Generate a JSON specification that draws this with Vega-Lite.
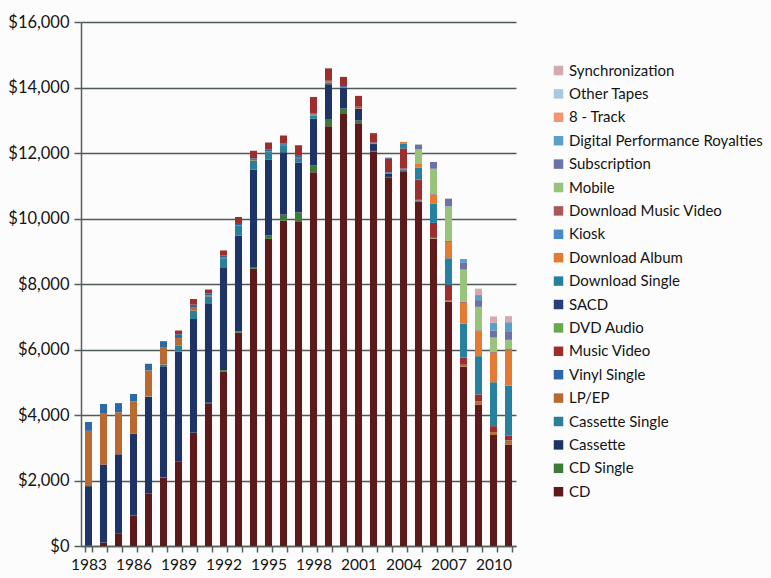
{
  "$schema": "https://vega.github.io/schema/vega-lite/v6.json",
  "autosize": {"type": "none"},
  "width": 435,
  "height": 524,
  "padding": {"left": 81, "top": 22, "right": 255, "bottom": 32},
  "background": "#fcfcfc",
  "data": {
    "values": [
      {"year": 1983, "format": "CD", "sales": 17.2},
      {"year": 1983, "format": "Cassette", "sales": 1810.9},
      {"year": 1983, "format": "LP/EP", "sales": 1689.0},
      {"year": 1983, "format": "Vinyl Single", "sales": 269.3},
      {"year": 1984, "format": "CD", "sales": 103.3},
      {"year": 1984, "format": "Cassette", "sales": 2383.9},
      {"year": 1984, "format": "LP/EP", "sales": 1548.8},
      {"year": 1984, "format": "Vinyl Single", "sales": 298.7},
      {"year": 1985, "format": "CD", "sales": 389.5},
      {"year": 1985, "format": "Cassette", "sales": 2411.5},
      {"year": 1985, "format": "LP/EP", "sales": 1280.5},
      {"year": 1985, "format": "Vinyl Single", "sales": 281.0},
      {"year": 1986, "format": "CD", "sales": 930.1},
      {"year": 1986, "format": "Cassette", "sales": 2499.5},
      {"year": 1986, "format": "LP/EP", "sales": 983.0},
      {"year": 1986, "format": "Vinyl Single", "sales": 228.1},
      {"year": 1987, "format": "CD", "sales": 1593.6},
      {"year": 1987, "format": "Cassette", "sales": 2959.7},
      {"year": 1987, "format": "Cassette Single", "sales": 14.3},
      {"year": 1987, "format": "LP/EP", "sales": 793.1},
      {"year": 1987, "format": "Vinyl Single", "sales": 203.3},
      {"year": 1988, "format": "CD", "sales": 2089.9},
      {"year": 1988, "format": "CD Single", "sales": 9.8},
      {"year": 1988, "format": "Cassette", "sales": 3385.1},
      {"year": 1988, "format": "Cassette Single", "sales": 57.3},
      {"year": 1988, "format": "LP/EP", "sales": 532.3},
      {"year": 1988, "format": "Vinyl Single", "sales": 180.4},
      {"year": 1989, "format": "CD", "sales": 2587.7},
      {"year": 1989, "format": "Cassette", "sales": 3345.8},
      {"year": 1989, "format": "Cassette Single", "sales": 194.6},
      {"year": 1989, "format": "LP/EP", "sales": 220.3},
      {"year": 1989, "format": "Vinyl Single", "sales": 116.4},
      {"year": 1989, "format": "Music Video", "sales": 115.4},
      {"year": 1990, "format": "CD", "sales": 3451.6},
      {"year": 1990, "format": "CD Single", "sales": 6.0},
      {"year": 1990, "format": "Cassette", "sales": 3472.4},
      {"year": 1990, "format": "Cassette Single", "sales": 257.9},
      {"year": 1990, "format": "LP/EP", "sales": 86.5},
      {"year": 1990, "format": "Vinyl Single", "sales": 94.4},
      {"year": 1990, "format": "Music Video", "sales": 172.3},
      {"year": 1991, "format": "CD", "sales": 4337.7},
      {"year": 1991, "format": "CD Single", "sales": 35.1},
      {"year": 1991, "format": "Cassette", "sales": 3019.6},
      {"year": 1991, "format": "Cassette Single", "sales": 230.4},
      {"year": 1991, "format": "LP/EP", "sales": 29.4},
      {"year": 1991, "format": "Vinyl Single", "sales": 63.9},
      {"year": 1991, "format": "Music Video", "sales": 118.1},
      {"year": 1992, "format": "CD", "sales": 5326.5},
      {"year": 1992, "format": "CD Single", "sales": 45.1},
      {"year": 1992, "format": "Cassette", "sales": 3116.3},
      {"year": 1992, "format": "Cassette Single", "sales": 298.8},
      {"year": 1992, "format": "LP/EP", "sales": 13.5},
      {"year": 1992, "format": "Vinyl Single", "sales": 66.4},
      {"year": 1992, "format": "Music Video", "sales": 157.4},
      {"year": 1993, "format": "CD", "sales": 6511.4},
      {"year": 1993, "format": "CD Single", "sales": 45.8},
      {"year": 1993, "format": "Cassette", "sales": 2915.8},
      {"year": 1993, "format": "Cassette Single", "sales": 298.5},
      {"year": 1993, "format": "LP/EP", "sales": 10.6},
      {"year": 1993, "format": "Vinyl Single", "sales": 51.2},
      {"year": 1993, "format": "Music Video", "sales": 213.3},
      {"year": 1994, "format": "CD", "sales": 8464.5},
      {"year": 1994, "format": "CD Single", "sales": 56.1},
      {"year": 1994, "format": "Cassette", "sales": 2976.4},
      {"year": 1994, "format": "Cassette Single", "sales": 274.9},
      {"year": 1994, "format": "LP/EP", "sales": 17.8},
      {"year": 1994, "format": "Vinyl Single", "sales": 47.2},
      {"year": 1994, "format": "Music Video", "sales": 231.1},
      {"year": 1995, "format": "CD", "sales": 9377.4},
      {"year": 1995, "format": "CD Single", "sales": 110.9},
      {"year": 1995, "format": "Cassette", "sales": 2303.6},
      {"year": 1995, "format": "Cassette Single", "sales": 236.3},
      {"year": 1995, "format": "LP/EP", "sales": 25.1},
      {"year": 1995, "format": "Vinyl Single", "sales": 46.7},
      {"year": 1995, "format": "Music Video", "sales": 220.3},
      {"year": 1996, "format": "CD", "sales": 9934.7},
      {"year": 1996, "format": "CD Single", "sales": 184.1},
      {"year": 1996, "format": "Cassette", "sales": 1905.3},
      {"year": 1996, "format": "Cassette Single", "sales": 189.3},
      {"year": 1996, "format": "LP/EP", "sales": 36.8},
      {"year": 1996, "format": "Vinyl Single", "sales": 47.5},
      {"year": 1996, "format": "Music Video", "sales": 236.1},
      {"year": 1997, "format": "CD", "sales": 9915.1},
      {"year": 1997, "format": "CD Single", "sales": 272.7},
      {"year": 1997, "format": "Cassette", "sales": 1522.7},
      {"year": 1997, "format": "Cassette Single", "sales": 133.5},
      {"year": 1997, "format": "LP/EP", "sales": 33.3},
      {"year": 1997, "format": "Vinyl Single", "sales": 35.6},
      {"year": 1997, "format": "Music Video", "sales": 323.9},
      {"year": 1998, "format": "CD", "sales": 11416.0},
      {"year": 1998, "format": "CD Single", "sales": 213.2},
      {"year": 1998, "format": "Cassette", "sales": 1419.9},
      {"year": 1998, "format": "Cassette Single", "sales": 94.4},
      {"year": 1998, "format": "LP/EP", "sales": 34.0},
      {"year": 1998, "format": "Vinyl Single", "sales": 25.7},
      {"year": 1998, "format": "Music Video", "sales": 508.0},
      {"year": 1999, "format": "CD", "sales": 12816.3},
      {"year": 1999, "format": "CD Single", "sales": 222.4},
      {"year": 1999, "format": "Cassette", "sales": 1061.6},
      {"year": 1999, "format": "Cassette Single", "sales": 48.0},
      {"year": 1999, "format": "LP/EP", "sales": 31.8},
      {"year": 1999, "format": "Vinyl Single", "sales": 27.9},
      {"year": 1999, "format": "Music Video", "sales": 376.7},
      {"year": 2000, "format": "CD", "sales": 13214.5},
      {"year": 2000, "format": "CD Single", "sales": 142.7},
      {"year": 2000, "format": "Cassette", "sales": 626.0},
      {"year": 2000, "format": "Cassette Single", "sales": 4.6},
      {"year": 2000, "format": "LP/EP", "sales": 27.7},
      {"year": 2000, "format": "Vinyl Single", "sales": 26.3},
      {"year": 2000, "format": "Music Video", "sales": 281.9},
      {"year": 2001, "format": "CD", "sales": 12909.4},
      {"year": 2001, "format": "CD Single", "sales": 79.4},
      {"year": 2001, "format": "Cassette", "sales": 363.4},
      {"year": 2001, "format": "LP/EP", "sales": 27.4},
      {"year": 2001, "format": "Vinyl Single", "sales": 31.4},
      {"year": 2001, "format": "Music Video", "sales": 329.2},
      {"year": 2001, "format": "DVD Audio", "sales": 6.0},
      {"year": 2002, "format": "CD", "sales": 12044.1},
      {"year": 2002, "format": "CD Single", "sales": 19.6},
      {"year": 2002, "format": "Cassette", "sales": 209.8},
      {"year": 2002, "format": "LP/EP", "sales": 20.5},
      {"year": 2002, "format": "Vinyl Single", "sales": 24.9},
      {"year": 2002, "format": "Music Video", "sales": 288.4},
      {"year": 2002, "format": "DVD Audio", "sales": 6.5},
      {"year": 2003, "format": "CD", "sales": 11232.9},
      {"year": 2003, "format": "CD Single", "sales": 36.0},
      {"year": 2003, "format": "Cassette", "sales": 108.1},
      {"year": 2003, "format": "LP/EP", "sales": 21.7},
      {"year": 2003, "format": "Vinyl Single", "sales": 21.5},
      {"year": 2003, "format": "Music Video", "sales": 399.9},
      {"year": 2003, "format": "DVD Audio", "sales": 8.5},
      {"year": 2003, "format": "SACD", "sales": 26.3},
      {"year": 2004, "format": "CD", "sales": 11446.5},
      {"year": 2004, "format": "CD Single", "sales": 15.0},
      {"year": 2004, "format": "Cassette", "sales": 23.7},
      {"year": 2004, "format": "LP/EP", "sales": 19.3},
      {"year": 2004, "format": "Vinyl Single", "sales": 19.9},
      {"year": 2004, "format": "Music Video", "sales": 607.2},
      {"year": 2004, "format": "DVD Audio", "sales": 6.5},
      {"year": 2004, "format": "SACD", "sales": 16.6},
      {"year": 2004, "format": "Download Single", "sales": 138.0},
      {"year": 2004, "format": "Download Album", "sales": 45.5},
      {"year": 2005, "format": "CD", "sales": 10520.2},
      {"year": 2005, "format": "CD Single", "sales": 10.9},
      {"year": 2005, "format": "Cassette", "sales": 13.1},
      {"year": 2005, "format": "LP/EP", "sales": 14.2},
      {"year": 2005, "format": "Vinyl Single", "sales": 13.2},
      {"year": 2005, "format": "Music Video", "sales": 602.2},
      {"year": 2005, "format": "SACD", "sales": 10.9},
      {"year": 2005, "format": "Download Single", "sales": 363.3},
      {"year": 2005, "format": "Download Album", "sales": 135.7},
      {"year": 2005, "format": "Kiosk", "sales": 1.0},
      {"year": 2005, "format": "Download Music Video", "sales": 1.9},
      {"year": 2005, "format": "Mobile", "sales": 421.6},
      {"year": 2005, "format": "Subscription", "sales": 149.2},
      {"year": 2006, "format": "CD", "sales": 9372.6},
      {"year": 2006, "format": "CD Single", "sales": 7.7},
      {"year": 2006, "format": "Cassette", "sales": 3.7},
      {"year": 2006, "format": "LP/EP", "sales": 15.7},
      {"year": 2006, "format": "Vinyl Single", "sales": 11.5},
      {"year": 2006, "format": "Music Video", "sales": 451.7},
      {"year": 2006, "format": "SACD", "sales": 3.1},
      {"year": 2006, "format": "Download Single", "sales": 580.6},
      {"year": 2006, "format": "Download Album", "sales": 275.9},
      {"year": 2006, "format": "Kiosk", "sales": 1.9},
      {"year": 2006, "format": "Download Music Video", "sales": 19.7},
      {"year": 2006, "format": "Mobile", "sales": 774.5},
      {"year": 2006, "format": "Subscription", "sales": 206.2},
      {"year": 2007, "format": "CD", "sales": 7452.3},
      {"year": 2007, "format": "CD Single", "sales": 12.2},
      {"year": 2007, "format": "LP/EP", "sales": 22.9},
      {"year": 2007, "format": "Vinyl Single", "sales": 4.0},
      {"year": 2007, "format": "Music Video", "sales": 484.9},
      {"year": 2007, "format": "Download Single", "sales": 809.9},
      {"year": 2007, "format": "Download Album", "sales": 497.7},
      {"year": 2007, "format": "Kiosk", "sales": 2.6},
      {"year": 2007, "format": "Download Music Video", "sales": 28.2},
      {"year": 2007, "format": "Mobile", "sales": 1055.8},
      {"year": 2007, "format": "Subscription", "sales": 234.4},
      {"year": 2008, "format": "CD", "sales": 5471.3},
      {"year": 2008, "format": "CD Single", "sales": 3.5},
      {"year": 2008, "format": "LP/EP", "sales": 56.7},
      {"year": 2008, "format": "Vinyl Single", "sales": 2.9},
      {"year": 2008, "format": "Music Video", "sales": 218.9},
      {"year": 2008, "format": "Download Single", "sales": 1032.2},
      {"year": 2008, "format": "Download Album", "sales": 635.3},
      {"year": 2008, "format": "Kiosk", "sales": 2.6},
      {"year": 2008, "format": "Download Music Video", "sales": 39.7},
      {"year": 2008, "format": "Mobile", "sales": 977.1},
      {"year": 2008, "format": "Subscription", "sales": 221.4},
      {"year": 2008, "format": "Digital Performance Royalties", "sales": 100.0},
      {"year": 2009, "format": "CD", "sales": 4320},
      {"year": 2009, "format": "LP/EP", "sales": 100},
      {"year": 2009, "format": "Vinyl Single", "sales": 2.5},
      {"year": 2009, "format": "Music Video", "sales": 205},
      {"year": 2009, "format": "Download Single", "sales": 1170},
      {"year": 2009, "format": "Download Album", "sales": 765},
      {"year": 2009, "format": "Kiosk", "sales": 5},
      {"year": 2009, "format": "Download Music Video", "sales": 20},
      {"year": 2009, "format": "Mobile", "sales": 715},
      {"year": 2009, "format": "Subscription", "sales": 205},
      {"year": 2009, "format": "Digital Performance Royalties", "sales": 155},
      {"year": 2009, "format": "Synchronization", "sales": 195},
      {"year": 2010, "format": "CD", "sales": 3389},
      {"year": 2010, "format": "LP/EP", "sales": 89},
      {"year": 2010, "format": "Vinyl Single", "sales": 2},
      {"year": 2010, "format": "Music Video", "sales": 180},
      {"year": 2010, "format": "Download Single", "sales": 1340},
      {"year": 2010, "format": "Download Album", "sales": 895},
      {"year": 2010, "format": "Kiosk", "sales": 5},
      {"year": 2010, "format": "Download Music Video", "sales": 25},
      {"year": 2010, "format": "Mobile", "sales": 440},
      {"year": 2010, "format": "Subscription", "sales": 215},
      {"year": 2010, "format": "Digital Performance Royalties", "sales": 240},
      {"year": 2010, "format": "Synchronization", "sales": 190},
      {"year": 2011, "format": "CD", "sales": 3101},
      {"year": 2011, "format": "LP/EP", "sales": 120},
      {"year": 2011, "format": "Vinyl Single", "sales": 5},
      {"year": 2011, "format": "Music Video", "sales": 150},
      {"year": 2011, "format": "Download Single", "sales": 1520},
      {"year": 2011, "format": "Download Album", "sales": 1085},
      {"year": 2011, "format": "Kiosk", "sales": 5},
      {"year": 2011, "format": "Download Music Video", "sales": 25},
      {"year": 2011, "format": "Mobile", "sales": 285},
      {"year": 2011, "format": "Subscription", "sales": 238},
      {"year": 2011, "format": "Digital Performance Royalties", "sales": 300},
      {"year": 2011, "format": "Synchronization", "sales": 183}
    ]
  },
  "transform": [
    {"calculate": "indexof(['Synchronization','Other Tapes','8 - Track','Digital Performance Royalties','Subscription','Mobile','Download Music Video','Kiosk','Download Album','Download Single','SACD','DVD Audio','Music Video','Vinyl Single','LP/EP','Cassette Single','Cassette','CD Single','CD'], datum.format)", "as": "stackRank"}
  ],
  "mark": {"type": "bar"},
  "encoding": {
    "x": {
      "field": "year",
      "type": "ordinal",
      "scale": {"paddingInner": 0.53, "paddingOuter": 0.265},
      "axis": {
        "title": null,
        "labelAngle": 0,
        "labelExpr": "(datum.value - 1983) % 3 == 0 ? datum.label : ''",
        "tickBand": "extent",
        "tickSize": 6,
        "labelPadding": 5,
        "labelFontSize": 15.5,
        "labelFont": "Lato",
        "labelColor": "#141414",
        "domainColor": "#55605d",
        "domainWidth": 1.5,
        "tickColor": "#55605d",
        "tickWidth": 1.5,
        "grid": false
      }
    },
    "y": {
      "field": "sales",
      "type": "quantitative",
      "aggregate": "sum",
      "stack": "zero",
      "scale": {"domain": [0, 16000], "nice": false},
      "axis": {
        "title": null,
        "values": [0, 2000, 4000, 6000, 8000, 10000, 12000, 14000, 16000],
        "format": "$,.0f",
        "tickSize": 7,
        "labelPadding": 5,
        "labelFontSize": 16.5,
        "labelFont": "Lato",
        "labelColor": "#141414",
        "domainColor": "#55605d",
        "domainWidth": 1.5,
        "tickColor": "#55605d",
        "tickWidth": 1.5,
        "grid": true,
        "gridColor": "#4f5a57",
        "gridWidth": 1.6
      }
    },
    "color": {
      "field": "format",
      "type": "nominal",
      "scale": {
        "domain": ["Synchronization", "Other Tapes", "8 - Track", "Digital Performance Royalties", "Subscription", "Mobile", "Download Music Video", "Kiosk", "Download Album", "Download Single", "SACD", "DVD Audio", "Music Video", "Vinyl Single", "LP/EP", "Cassette Single", "Cassette", "CD Single", "CD"],
        "range": ["#d5aaae", "#a8c8e2", "#ee9770", "#5b9fc6", "#6a72a8", "#97c37b", "#a85858", "#4b88c6", "#e37b32", "#26809e", "#2a3c7c", "#6aa84f", "#9c2e2e", "#2c68a8", "#b86a30", "#2a8098", "#1f3466", "#3d7a3a", "#5c1a1a"]
      },
      "legend": {
        "title": null,
        "orient": "none",
        "legendX": 470,
        "legendY": 41,
        "symbolType": "square",
        "symbolSize": 90,
        "symbolStrokeWidth": 0,
        "labelFontSize": 15,
        "labelFont": "Lato",
        "labelColor": "#141414",
        "labelOffset": 3,
        "rowPadding": 7.4,
        "labelLimit": 300
      }
    },
    "order": {"field": "stackRank", "type": "quantitative", "sort": "descending"}
  },
  "config": {
    "view": {"stroke": null}
  }
}
